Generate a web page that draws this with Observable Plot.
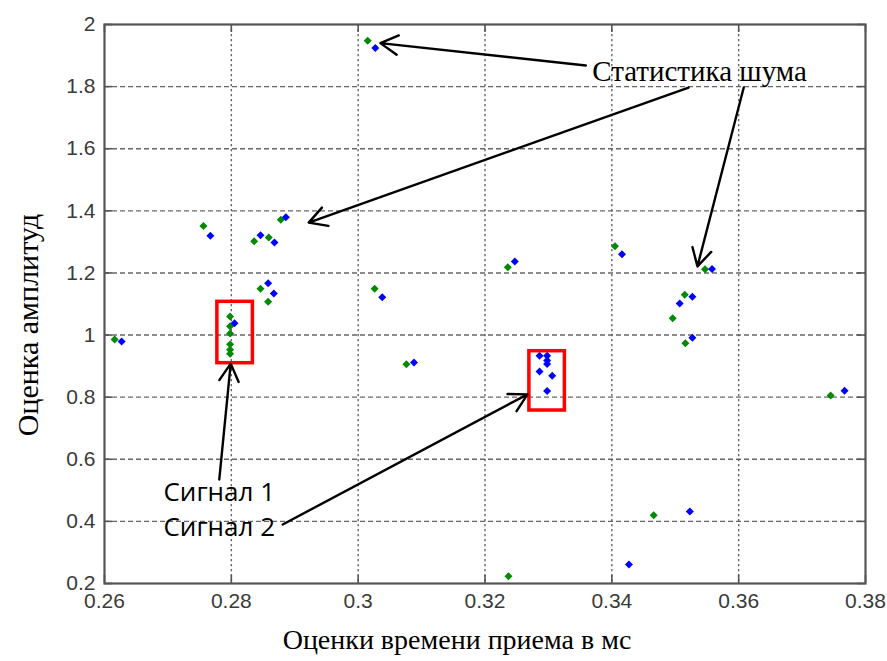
<!DOCTYPE html>
<html><head><meta charset="utf-8">
<script src="https://cdn.jsdelivr.net/npm/d3@7"></script>
<script src="https://cdn.jsdelivr.net/npm/@observablehq/plot@0.6"></script>
<style>body{margin:0;background:#fff;}</style>
</head><body><div id="chart"></div>
<script>
// green estimates
const greenX = [0.3015,0.2756,0.2878,0.2836,0.2859,0.2846,0.2858,0.2798,0.2798,0.2798,0.2798,0.2798,0.2798,0.2616,0.3026,0.3076,0.3236,0.3237,0.3466,0.3405,0.3547,0.3515,0.3496,0.3516,0.3745];
const greenY = [1.948,1.351,1.371,1.302,1.314,1.149,1.107,1.060,1.028,1.005,0.970,0.953,0.940,0.986,1.149,0.906,1.218,0.2235,0.420,1.286,1.212,1.130,1.054,0.974,0.805];
// blue estimates
const blueX = [0.3027,0.2767,0.2886,0.2846,0.2868,0.2858,0.2867,0.2805,0.2627,0.3038,0.3088,0.3247,0.3286,0.3298,0.3298,0.3298,0.3286,0.3306,0.3298,0.3427,0.3523,0.3416,0.3558,0.3527,0.3507,0.3527,0.3767];
const blueY = [1.924,1.320,1.3795,1.3215,1.298,1.167,1.134,1.038,0.979,1.122,0.912,1.237,0.933,0.933,0.918,0.907,0.883,0.869,0.820,0.261,0.432,1.260,1.213,1.123,1.1016,0.991,0.821];

const xTicks = [0.26,0.28,0.3,0.32,0.34,0.36,0.38];
const xTickLabels = ["0.26","0.28","0.3","0.32","0.34","0.36","0.38"];
const yTicks = [0.2,0.4,0.6,0.8,1,1.2,1.4,1.6,1.8,2];
const yTickLabels = ["0.2","0.4","0.6","0.8","1","1.2","1.4","1.6","1.8","2"];

// highlight boxes
const boxX1 = [0.2778,0.3270];
const boxX2 = [0.2834,0.3326];
const boxY1 = [0.9094,0.757];
const boxY2 = [1.107,0.948];

// annotation arrows
const arrowX1 = [0.3359,0.3521,0.3608,0.2781,0.2881];
const arrowY1 = [1.868,1.797,1.797,0.535,0.390];
const arrowX2 = [0.3035,0.2922,0.3535,0.2799,0.3267];
const arrowY2 = [1.940,1.362,1.221,0.908,0.809];

const noteText = ["Статистика шума"];
const noteX = [0.3369];
const noteY = [1.849];
const signalText = ["Сигнал 1","Сигнал 2"];
const signalX = [0.2693,0.2693];
const signalY = [0.493,0.380];

const xLabel = "Оценки времени приема в мс";
const yLabel = "Оценка амплитуд";

const green = greenX.map((x,i)=>({x, y: greenY[i]}));
const blue = blueX.map((x,i)=>({x, y: blueY[i]}));
const boxes = boxX1.map((x1,i)=>({x1, x2: boxX2[i], y1: boxY1[i], y2: boxY2[i]}));
const arrows = arrowX1.map((x1,i)=>({x1, y1: arrowY1[i], x2: arrowX2[i], y2: arrowY2[i]}));
const notes = noteText.map((t,i)=>({t, x: noteX[i], y: noteY[i]}));
const signals = signalText.map((t,i)=>({t, x: signalX[i], y: signalY[i]}));

const W = 887, H = 661, mL = 104, mR = 22, mT = 24, mB = 78;
const fw = W - mL - mR, fh = H - mT - mB, tl = 8;
const gridStyle = {stroke: "#555", strokeOpacity: 0.9, strokeWidth: 1.4};
const tickFont = {fontFamily: "Liberation Sans, Arial, sans-serif", fontSize: 21, fill: "#3a3a3a"};
const serif = "Liberation Serif, Times New Roman, serif";

const chart = Plot.plot({
  width: W, height: H,
  marginLeft: mL, marginRight: mR, marginTop: mT, marginBottom: mB,
  style: {background: "#fff", fontFamily: "Liberation Sans, Arial, sans-serif"},
  x: {domain: [0.26, 0.38]},
  y: {domain: [0.2, 2]},
  marks: [
    Plot.gridX(xTicks.slice(1,-1), {...gridStyle, strokeDasharray: "2.2,2.8"}),
    Plot.gridY(yTicks.slice(1,-1), {...gridStyle, strokeDasharray: "5,3"}),
    Plot.tickX(xTicks, {x: d=>d, stroke: "#555", strokeWidth: 1.6, insetTop: fh - tl}),
    Plot.tickX(xTicks, {x: d=>d, stroke: "#555", strokeWidth: 1.6, insetBottom: fh - tl}),
    Plot.tickY(yTicks, {y: d=>d, stroke: "#555", strokeWidth: 1.6, insetLeft: fw - tl}),
    Plot.tickY(yTicks, {y: d=>d, stroke: "#555", strokeWidth: 1.6, insetRight: fw - tl}),
    Plot.frame({stroke: "#555", strokeWidth: 2.2}),
    Plot.axisX({ticks: xTicks, tickFormat: d => xTickLabels[xTicks.indexOf(d)], tickSize: 0, tickPadding: 10, ...tickFont}),
    Plot.axisY({ticks: yTicks, tickFormat: d => yTickLabels[yTicks.indexOf(d)], tickSize: 0, tickPadding: 9, ...tickFont}),
    Plot.dot(green, {x: "x", y: "y", symbol: "diamond2", r: 3.6, fill: "#008a00", stroke: "none"}),
    Plot.dot(blue, {x: "x", y: "y", symbol: "diamond2", r: 3.6, fill: "#0000ff", stroke: "none"}),
    Plot.rect(boxes, {x1: "x1", x2: "x2", y1: "y1", y2: "y2", fill: "none", stroke: "#ff0000", strokeWidth: 3.5}),
    Plot.arrow(arrows, {x1: "x1", y1: "y1", x2: "x2", y2: "y2", stroke: "#000", strokeWidth: 2.4, headLength: 12.5, headAngle: 58}),
    Plot.text(notes, {x: "x", y: "y", text: "t", textAnchor: "start", fontFamily: serif, fontSize: 29, fill: "#000"}),
    Plot.text(signals, {x: "x", y: "y", text: "t", textAnchor: "start", fontFamily: "Open Sans, Noto Sans, sans-serif", fontSize: 26, fill: "#000"}),
    Plot.text([xLabel], {text: d=>d, frameAnchor: "bottom", textAnchor: "middle", lineAnchor: "middle", dy: 57, dx: -28, fontFamily: serif, fontSize: 28, fill: "#000"}),
    Plot.text([yLabel], {text: d=>d, frameAnchor: "left", textAnchor: "middle", lineAnchor: "middle", rotate: -90, dx: -76, dy: 21, fontFamily: serif, fontSize: 30, fill: "#000"})
  ]
});
document.getElementById("chart").appendChild(chart);
</script>
</body></html>
